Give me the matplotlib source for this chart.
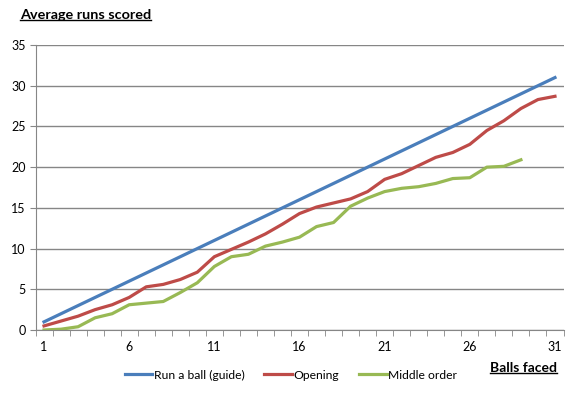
import matplotlib.pyplot as plt
from matplotlib.lines import Line2D
import numpy as np

plt.rcParams['font.family'] = ['Lato', 'DejaVu Sans']

balls = list(range(1, 32))
run_a_ball = list(range(1, 32))
opening = [0.5, 1.1, 1.7, 2.5, 3.1, 4.0, 5.3, 5.6, 6.2, 7.1,
           9.0, 9.9, 10.8, 11.8, 13.0, 14.3, 15.1, 15.6, 16.1, 17.0,
           18.5, 19.2, 20.2, 21.2, 21.8, 22.8, 24.5, 25.7, 27.2, 28.3, 28.7]
middle = [0.0, 0.1, 0.4, 1.5, 2.0, 3.1, 3.3, 3.5, 4.6, 5.8,
          7.8, 9.0, 9.3, 10.3, 10.8, 11.4, 12.7, 13.2, 15.2, 16.2,
          17.0, 17.4, 17.6, 18.0, 18.6, 18.7, 20.0, 20.1, 20.9]

fig = plt.figure(figsize=(5.8, 3.94), dpi=100)
ax = fig.add_axes([35.5 / 580, 1 - 330 / 394, 528 / 580, 285 / 394])

ax.plot(balls, run_a_ball, color='#4A7EBB', lw=2.3, label='Run a ball (guide)')
ax.plot(balls, opening, color='#BE4B48', lw=2.3, label='Opening')
ax.plot(balls[:len(middle)], middle, color='#98B954', lw=2.3, label='Middle order')

ax.set_xlim(0.5, 31.5)
ax.set_ylim(0, 35)
ax.set_yticks(range(0, 36, 5))
ax.set_xticks([1, 6, 11, 16, 21, 26, 31])
ax.set_xticks(np.arange(0.5, 31.6, 1), minor=True)
ax.tick_params(axis='x', which='major', length=0, pad=8, labelsize=9)
ax.tick_params(axis='x', which='minor', length=4, color='#868686')
ax.tick_params(axis='y', length=4, color='#868686', labelsize=9, pad=3)
ax.grid(axis='y', color='#868686', lw=1)
ax.set_axisbelow(True)
for s in ['top', 'right']:
    ax.spines[s].set_visible(False)
for s in ['left', 'bottom']:
    ax.spines[s].set_color('#868686')

t1 = fig.text(20 / 580, 1 - 15 / 394, 'Average runs scored', fontsize=10.4,
              fontweight='bold', ha='left', va='center')
t2 = fig.text(557 / 580, 1 - 368 / 394, 'Balls faced', fontsize=10,
              fontweight='bold', ha='right', va='center')

fig.legend(loc='center', bbox_to_anchor=(291 / 580, 1 - 375 / 394), ncol=3,
           frameon=False, fontsize=8.7, handlelength=2.3, columnspacing=1.6,
           handletextpad=0.15)

# underline the two titles
fig.canvas.draw()
r = fig.canvas.get_renderer()
for t in (t1, t2):
    bb = t.get_window_extent(r).transformed(fig.transFigure.inverted())
    y = bb.y0 + 0.002
    fig.add_artist(Line2D([bb.x0, bb.x1], [y, y], color='black', lw=1,
                          transform=fig.transFigure))

fig.savefig('out.png', dpi=100)
